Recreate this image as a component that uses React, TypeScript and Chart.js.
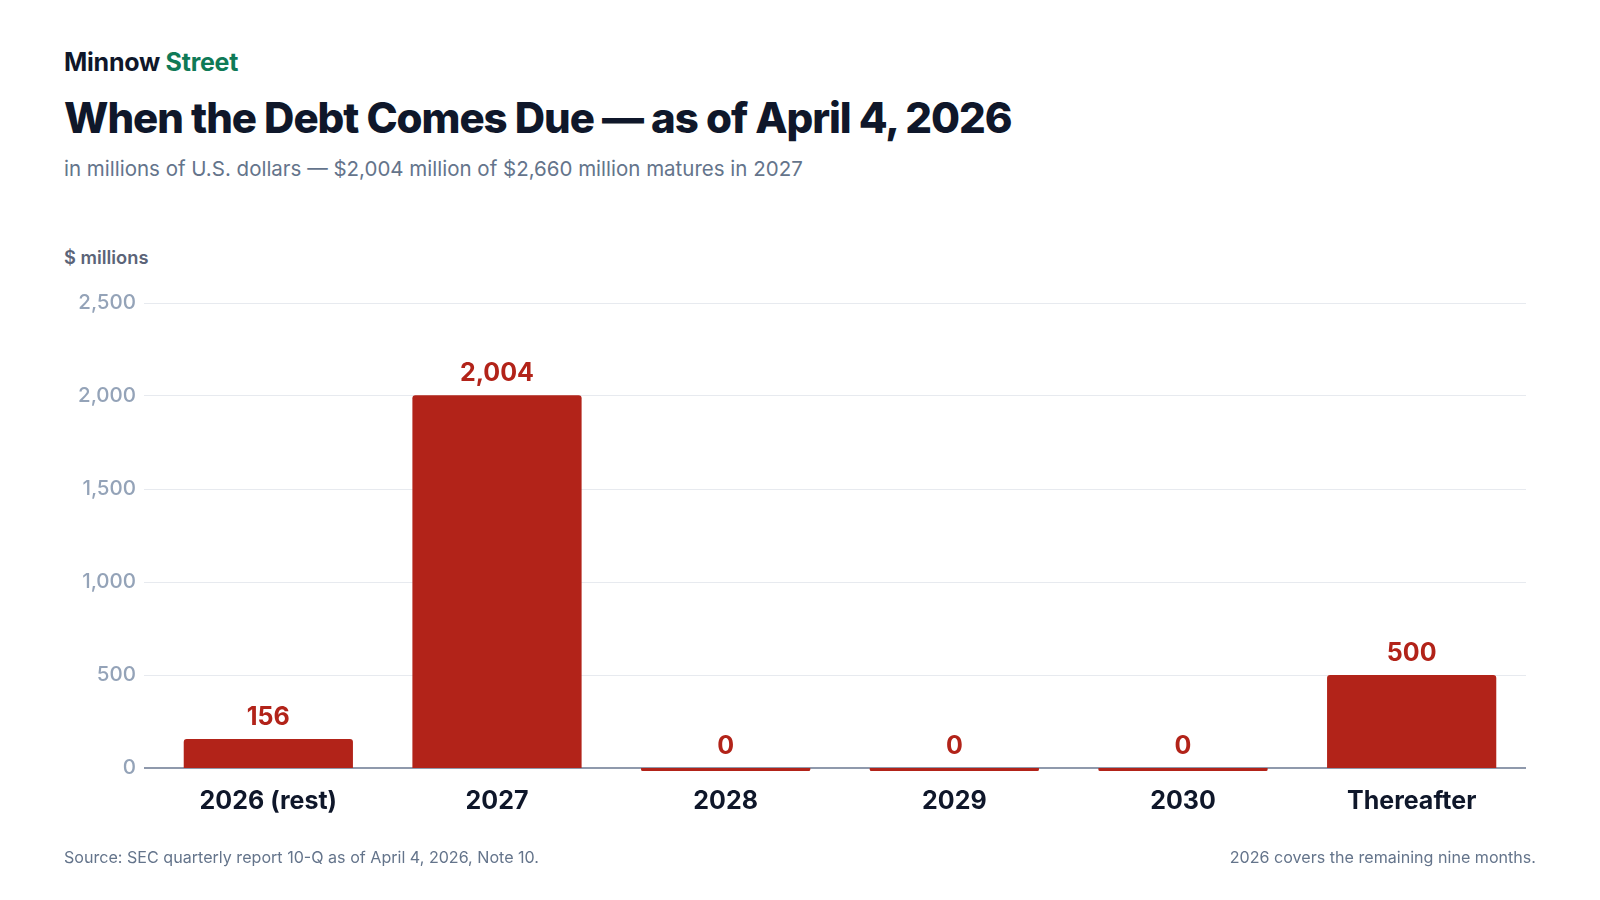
import { useEffect, useRef } from 'react'
import { Chart, registerables } from 'chart.js'
Chart.register(...registerables)

const CATEGORIES = ['2026 (rest)', '2027', '2028', '2029', '2030', 'Thereafter']
const MATURITIES = [156, 2004, 0, 0, 0, 500]
const Y_TICKS = [0, 500, 1000, 1500, 2000, 2500]

const RED = '#b22319'
const INK = '#0f172a'
const FONT = 'Inter, "Noto Sans", sans-serif'

function fmt(n: number): string {
    return n.toLocaleString('en-US')
}

const valueLabels = {
    id: 'valueLabels',
    afterDatasetsDraw(chart: Chart) {
        const meta = chart.getDatasetMeta(0)
        const { ctx } = chart
        ctx.save()
        ctx.font = `700 25px ${FONT}`
        ctx.fillStyle = RED
        ctx.textAlign = 'center'
        ctx.textBaseline = 'alphabetic'
        meta.data.forEach((el: any, i) => {
            const top = Math.min(el.y, el.base)
            ctx.fillText(fmt(MATURITIES[i]), el.x, top - 14)
        })
        ctx.restore()
    },
}

export default function App() {
    const canvasRef = useRef<HTMLCanvasElement>(null)
    const chartRef = useRef<Chart | null>(null)

    useEffect(() => {
        if (!canvasRef.current) return
        chartRef.current?.destroy()
        chartRef.current = new Chart(canvasRef.current, {
            type: 'bar',
            plugins: [valueLabels],
            data: {
                labels: CATEGORIES,
                datasets: [{
                    data: MATURITIES,
                    backgroundColor: RED,
                    borderRadius: 3,
                    borderSkipped: 'start',
                    barPercentage: 0.74,
                    categoryPercentage: 1,
                    minBarLength: 3,
                    // tiny base so the zero-value stubs hang just below the axis
                    base: 0.0001,
                    clip: false,
                }],
            },
            options: {
                animation: false,
                responsive: true,
                maintainAspectRatio: false,
                layout: { padding: { top: 23, right: 10, bottom: 14, left: 0 } },
                plugins: {
                    legend: { display: false },
                    tooltip: { enabled: false },
                },
                scales: {
                    x: {
                        grid: { display: false, drawTicks: false },
                        border: { display: false },
                        ticks: { color: INK, font: { family: FONT, size: 25, weight: 700 }, padding: 18 },
                    },
                    y: {
                        min: 0,
                        max: 2500,
                        afterFit: (s: any) => { s.width = 90 },
                        afterBuildTicks: (s: any) => { s.ticks = Y_TICKS.map(v => ({ value: v })) },
                        grid: {
                            color: (c: any) => c.tick && c.tick.value === 0 ? '#8f99ac' : '#e7eaef',
                            lineWidth: (c: any) => c.tick && c.tick.value === 0 ? 2 : 1,
                            tickLength: 10,
                        },
                        border: { display: false },
                        ticks: {
                            color: '#94a3b8',
                            font: { family: FONT, size: 20.5, weight: 500 },
                            padding: 8,
                            callback: (v: any) => fmt(Number(v)),
                        },
                    },
                },
            },
        })
        return () => { chartRef.current?.destroy(); chartRef.current = null }
    }, [])

    const abs = (top: number): React.CSSProperties => ({ position: 'absolute', left: 64, top, lineHeight: 1, whiteSpace: 'nowrap' })

    return (
        <div style={{ position: 'absolute', left: 0, top: 0, width: 1600, height: 900, background: '#ffffff', fontFamily: FONT, overflow: 'hidden' }}>
            <div style={{ ...abs(50), fontSize: 25, fontWeight: 700, color: INK, letterSpacing: '-0.01em' }}>
                Minnow <span style={{ color: '#0f7a57' }}>Street</span>
            </div>
            <div style={{ ...abs(97), fontSize: 42, fontWeight: 800, color: INK, letterSpacing: '-0.025em' }}>
                When the Debt Comes Due — as of April 4, 2026
            </div>
            <div style={{ ...abs(159), fontSize: 20.5, fontWeight: 400, color: '#64748b' }}>
                in millions of U.S. dollars — $2,004 million of $2,660 million matures in 2027
            </div>
            <div style={{ ...abs(248), fontSize: 18.3, fontWeight: 600, color: '#5b6478' }}>
                $ millions
            </div>
            <div style={{ position: 'absolute', left: 64, top: 280, width: 1472, height: 568 }}>
                <canvas ref={canvasRef} />
            </div>
            <div style={{ ...abs(849), fontSize: 16.1, color: '#64748b' }}>
                Source: SEC quarterly report 10-Q as of April 4, 2026, Note 10.
            </div>
            <div style={{ position: 'absolute', right: 64, top: 849, lineHeight: 1, whiteSpace: 'nowrap', fontSize: 16.1, color: '#64748b' }}>
                2026 covers the remaining nine months.
            </div>
        </div>
    )
}
